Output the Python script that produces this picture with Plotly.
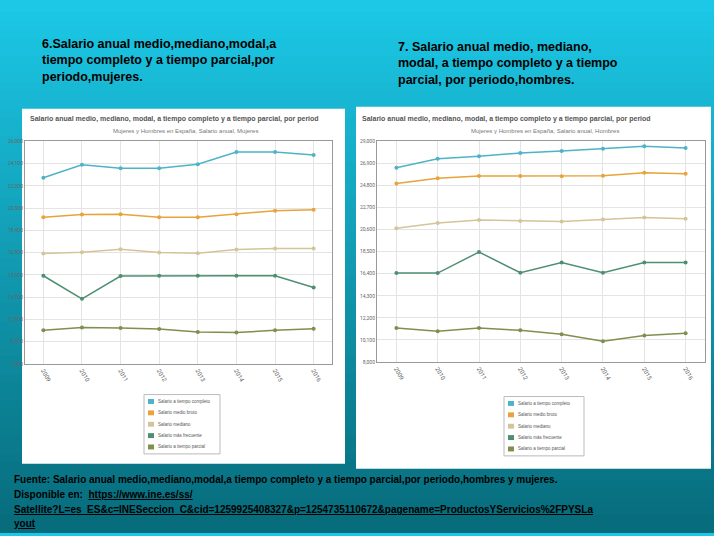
import plotly.graph_objects as go

years = ["2009","2010","2011","2012","2013","2014","2015","2016"]
series_names = ["Salario a tiempo completo","Salario medio bruto","Salario mediano","Salario más frecuente","Salario a tiempo parcial"]
colors = ["#4fb3c8","#e8a33a","#d4c49a","#4e8f72","#7f8f4e"]

muj_completo = [22900,24000,23720,23720,24060,25100,25100,24850]
muj_medio = [19530,19750,19780,19530,19530,19780,20090,20170]
muj_mediano = [16430,16540,16800,16510,16460,16770,16850,16850]
muj_frecuente = [14530,12560,14500,14530,14530,14530,14530,13520]
muj_parcial = [9870,10100,10070,9990,9730,9680,9870,10010]

hom_completo = [26490,27340,27590,27900,28090,28310,28530,28370]
hom_medio = [24990,25490,25710,25710,25680,25740,26020,25930]
hom_mediano = [20730,21230,21510,21420,21380,21570,21760,21640]
hom_frecuente = [16460,16460,18470,16490,17460,16490,17460,17460]
hom_parcial = [11230,10920,11230,11010,10640,9980,10510,10730]

muj_ticks = [7000,8900,10800,12700,14600,16500,18400,20300,22200,24100,26000]
hom_ticks = [8000,10100,12200,14300,16400,18500,20600,22700,24800,26900,29000]

W,H=714,536
fig = go.Figure()
muj = [muj_completo,muj_medio,muj_mediano,muj_frecuente,muj_parcial]
hom = [hom_completo,hom_medio,hom_mediano,hom_frecuente,hom_parcial]
for i,n in enumerate(series_names):
    fig.add_trace(go.Scatter(x=years,y=muj[i],name=n,mode="lines+markers",line=dict(color=colors[i],width=1.5),
                             marker=dict(size=4),xaxis="x",yaxis="y",showlegend=False))
for i,n in enumerate(series_names):
    fig.add_trace(go.Scatter(x=years,y=hom[i],name=n,mode="lines+markers",line=dict(color=colors[i],width=1.5),
                             marker=dict(size=4),xaxis="x2",yaxis="y2",showlegend=False))

def px(x0,y0,x1,y1):
    return dict(x0=x0/W,x1=x1/W,y0=1-y1/H,y1=1-y0/H)

shapes=[]
N=60
c0=(0x1c,0xc8,0xe6); c1=(0x07,0x6c,0x7c)
for k in range(N):
    t=k/(N-1)
    c=tuple(int(c0[j]+(c1[j]-c0[j])*t) for j in range(3))
    shapes.append(dict(type="rect",xref="paper",yref="paper",x0=0,x1=1,y0=max(0,1-(k+1)/N-0.004),y1=min(1,1-k/N),
                       fillcolor="rgb(%d,%d,%d)"%c,line=dict(width=0),layer="below"))
shapes.append(dict(type="rect",xref="paper",yref="paper",fillcolor="white",line=dict(width=0),layer="below",**px(22,107,345,466)))
shapes.append(dict(type="rect",xref="paper",yref="paper",fillcolor="white",line=dict(width=0),layer="below",**px(356,105,711,471)))

ann=[]
def T(x,y,text,size,color="black",bold=False,xanchor="left"):
    ann.append(dict(x=x/W,y=1-y/H,xref="paper",yref="paper",text=("<b>%s</b>"%text if bold else text),
                    showarrow=False,xanchor=xanchor,yanchor="middle",align="left",font=dict(size=size,color=color,family="Liberation Sans")))

for (lx,ly,lw) in [(144,396,76),(504,398,80)]:
    shapes.append(dict(type="rect",xref="paper",yref="paper",fillcolor="white",line=dict(color="#bbb",width=1),**px(lx,ly,lx+lw,ly+60)))
    for i,n in enumerate(series_names):
        yy=ly+7+i*11.5
        shapes.append(dict(type="rect",xref="paper",yref="paper",fillcolor=colors[i],line=dict(width=0),**px(lx+4,yy-2.5,lx+10,yy+2.5)))
        T(lx+12,yy,n,4.5,"#555")

ax_common=dict(showgrid=True,gridcolor="#e4e4e4",showline=True,linecolor="#999",mirror=True,ticks="")
fig.update_layout(
    width=W,height=H,margin=dict(l=0,r=0,t=0,b=0),paper_bgcolor="#1cc8e6",plot_bgcolor="white",
    shapes=shapes,showlegend=False,
    xaxis=dict(domain=[25/W,332/W],anchor="y",tickangle=60,tickfont=dict(size=6,color="#666"),**ax_common),
    yaxis=dict(domain=[1-365/H,1-140/H],anchor="x",range=[7000,26000],tickvals=muj_ticks,tickfont=dict(size=5,color="#666"),
               ticktext=[f"{v:,}" for v in muj_ticks],**ax_common),
    xaxis2=dict(domain=[377/W,705/W],anchor="y2",tickangle=60,tickfont=dict(size=6,color="#666"),**ax_common),
    yaxis2=dict(domain=[1-363/H,1-140/H],anchor="x2",range=[8000,29000],tickvals=hom_ticks,tickfont=dict(size=5,color="#666"),
                ticktext=[f"{v:,}" for v in hom_ticks],**ax_common),
    font=dict(family="Roboto"),
)
T(40,58,"6.Salario anual medio,mediano,modal,a<br>tiempo completo y a tiempo parcial,por<br>periodo,mujeres.",12.5,bold=True)
T(396,61,"7. Salario anual medio, mediano,<br>modal, a tiempo completo y a tiempo<br>parcial, por periodo,hombres.",12.5,bold=True)
T(28,117,"Salario anual medio, mediano, modal, a tiempo completo y a tiempo parcial, por period",7,"#555",True)
T(185,129,"Mujeres y Hombres en España, Salario anual, Mujeres",6,"#777",xanchor="center")
T(360,117,"Salario anual medio, mediano, modal, a tiempo completo y a tiempo parcial, por period",7,"#555",True)
T(545,129,"Mujeres y Hombres en España, Salario anual, Hombres",6,"#777",xanchor="center")
T(12,482,"Fuente: Salario anual medio,mediano,modal,a tiempo completo y a tiempo parcial,por periodo,hombres y mujeres.",10,bold=True)
T(12,497,"Disponible en:  <u>https://www.ine.es/ss/</u>",10,bold=True)
T(12,512,"<u>Satellite?L=es_ES&c=INESeccion_C&cid=1259925408327&p=1254735110672&pagename=ProductosYServicios%2FPYSLa</u>",10,bold=True)
T(12,526,"<u>yout</u>",10,bold=True)
fig.update_layout(annotations=ann)
fig.write_html("out.html", config={"displayModeBar": False},
               post_script="document.body.style.margin='0';document.body.style.overflow='hidden';")
